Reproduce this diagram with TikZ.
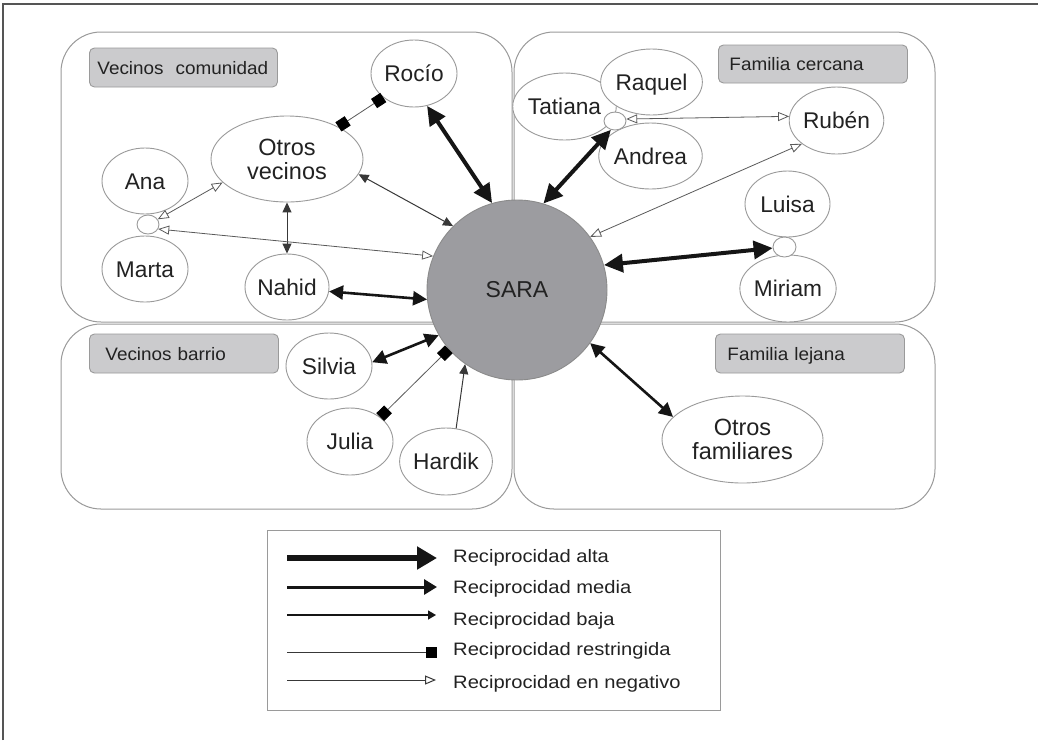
\documentclass[tikz,border=0pt]{standalone}
\usepackage{fontspec}
\setmainfont{Liberation Sans}
\newfontfamily\legfont[FakeStretch=1.12]{Liberation Sans}
\newfontfamily\labfont[FakeStretch=1.05]{Liberation Sans}
\usetikzlibrary{arrows.meta,shapes.geometric}
\definecolor{txt}{HTML}{222222}
\definecolor{bord}{HTML}{9A9A9A}
\definecolor{labfill}{HTML}{CBCBCD}
\definecolor{sarafill}{HTML}{9C9CA0}
\definecolor{edgec}{HTML}{151515}
\definecolor{thinc}{HTML}{5A5A5A}
\definecolor{framec}{HTML}{555555}
\begin{document}
\begin{tikzpicture}[x=1pt,y=-1pt,
  person/.style={ellipse, draw=bord, fill=white, line width=0.9pt, inner sep=0pt, text=txt,
    font=\fontsize{22.7}{24}\selectfont, text height=16pt, text depth=0pt},
  bigperson/.style={ellipse, draw=bord, fill=white, line width=0.9pt, inner sep=0pt, text=txt,
    font=\fontsize{23.5}{24}\selectfont, align=center},
  knot/.style={ellipse, draw=bord, fill=white, line width=0.9pt, inner sep=0pt},
  region/.style={draw=bord, line width=1pt, rounded corners=40pt},
  grouplab/.style={draw=bord, fill=labfill, rounded corners=5pt, line width=0.9pt, align=left,
    text=txt, font=\labfont\fontsize{18}{20}\selectfont, anchor=west, minimum height=39pt,
    text height=13pt, text depth=0pt},
  legtext/.style={anchor=base west, text=txt, font=\legfont\fontsize{18}{20}\selectfont, inner sep=0pt},
  alta/.style={draw=edgec, line width=4pt, arrows={Triangle[length=19pt,width=18pt]-Triangle[length=19pt,width=18pt]}},
  media/.style={draw=edgec, line width=2.6pt, arrows={Triangle[length=14pt,width=14pt]-Triangle[length=14pt,width=14pt]}},
  baja/.style={draw=edgec!85, line width=1pt, arrows={Triangle[length=10pt,width=9pt]-Triangle[length=10pt,width=9pt]}},
  bajaone/.style={draw=edgec!85, line width=1pt, arrows={-Triangle[length=10pt,width=9pt]}},
  restr/.style={draw=thinc, line width=0.8pt, arrows={Square[length=11pt,width=11pt,color=black]-Square[length=11pt,width=11pt,color=black]}},
  neg/.style={draw=thinc, line width=0.8pt, arrows={Triangle[length=11pt,width=9pt,fill=white]-Triangle[length=11pt,width=9pt,fill=white]}}
]
\useasboundingbox (0,0) rectangle (1038,740);
\fill[white] (0,0) rectangle (1038,740);
% outer frame (top and left)
\draw[framec, line width=1.6pt] (3,740) -- (3,4) -- (1038,4);

% regions
\draw[region] (61,32) rectangle (512,322);
\draw[region] (514,32) rectangle (935,322);
\draw[region] (61,324) rectangle (512,509);
\draw[region] (514,324) rectangle (935,509);

% group labels
\node[grouplab, inner xsep=8pt, text width=172pt] (gl1) at (89,67.5) {Vecinos\ \ comunidad};
\node[grouplab, inner xsep=11pt, text width=167pt, minimum height=38pt] (gl2) at (718,64) {Familia cercana};
\node[grouplab, inner xsep=16pt, text width=157pt] (gl3) at (89,353.5) {Vecinos barrio};
\node[grouplab, inner xsep=12pt, text width=165pt] (gl4) at (715,353.5) {Familia lejana};

% people
\node[person, minimum width=86pt, minimum height=67pt] (rocio) at (414,73.5) {Roc\'io};
\node[bigperson, minimum width=152pt, minimum height=86pt] (otrosv) at (287,159) {Otros\\vecinos};
\node[person, minimum width=86pt, minimum height=66pt] (ana) at (145,181) {Ana};
\node[person, minimum width=86pt, minimum height=66pt] (marta) at (145,269) {Marta};
\node[knot, minimum width=22pt, minimum height=19pt] (k1) at (148,224.5) {};
\node[person, minimum width=84pt, minimum height=66pt] (nahid) at (287,287) {Nahid};

\node[person, minimum width=85pt, minimum height=67pt] (tatiana) at (564.5,106.5) {Tatiana};
\node[person, minimum width=85pt, minimum height=66pt] (raquel) at (651.5,82) {Raquel};
\node[person, minimum width=85pt, minimum height=66pt] (andrea) at (650.5,156) {Andrea};
\node[knot, minimum width=22pt, minimum height=18pt] (k2) at (615,121) {};
\node[person, minimum width=85pt, minimum height=67pt] (ruben) at (836.5,120.5) {Rub\'en};
\node[person, minimum width=85pt, minimum height=66pt] (luisa) at (787.5,204) {Luisa};
\node[person, minimum width=86pt, minimum height=67pt] (miriam) at (788,288.5) {Miriam};
\node[knot, minimum width=23pt, minimum height=20pt] (k3) at (784.5,247) {};

\node[person, minimum width=86pt, minimum height=66pt] (silvia) at (329,366) {Silvia};
\node[person, minimum width=86pt, minimum height=67pt] (julia) at (350,441.5) {Julia};
\node[person, minimum width=86pt, minimum height=67pt] (hardik) at (446,461.5) {Hardik};
\node[bigperson, minimum width=161pt, minimum height=87pt] (otrosf) at (742.5,439.5) {Otros\\familiares};

\node[circle, draw=bord!90!black, fill=sarafill, line width=0.9pt, minimum size=180pt, inner sep=0pt,
  text=txt, font=\fontsize{23}{24}\selectfont] (sara) at (517,290) {SARA};

% connectors
\draw[restr] (otrosv.32) -- (rocio.-142);
\draw[alta] (rocio.-68) -- (sara.106);
\draw[baja] (otrosv.-12) -- (sara.135);
\draw[baja] (otrosv.-90) -- (nahid.90);
\draw[neg] (k1.28) -- (otrosv.-160);
\draw[neg] (k1.-24) -- (sara.158);
\draw[media] (nahid.-6) -- (sara.-174);

\draw[alta] (k2.-115) -- (sara.73);
\draw[neg] (k2.10) -- (ruben.175);
\draw[neg] (ruben.-146) -- (sara.36);
\draw[alta] (k3.-175) -- (sara.16);

\draw[media] (silvia.5) -- (sara.-150);
\draw[restr] (julia.39) -- (sara.-139);
\draw[bajaone] (hardik.73) -- (sara.-125);
\draw[media] (sara.-36) -- (otrosf.162);

% legend
\node[draw=bord, line width=1pt, minimum width=453pt, minimum height=180pt, anchor=north west, inner sep=0pt] (legend) at (267,530) {};
\coordinate (a1) at (287,558); \coordinate (b1) at (437,558);
\coordinate (a2) at (287,587); \coordinate (b2) at (437,587);
\coordinate (a3) at (287,615); \coordinate (b3) at (436,615);
\coordinate (a4) at (287,652); \coordinate (b4) at (437,652);
\coordinate (a5) at (287,680); \coordinate (b5) at (436,680);
\draw[draw=edgec, line width=6pt, arrows={-Triangle[length=20pt,width=22pt]}] (a1) -- (b1);
\draw[draw=edgec, line width=3pt, arrows={-Triangle[length=13pt,width=15pt]}] (a2) -- (b2);
\draw[draw=edgec, line width=1.3pt, arrows={-Triangle[length=8pt,width=9pt]}] (a3) -- (b3);
\draw[draw=edgec!85, line width=1pt, arrows={-Square[length=11pt,width=11pt,color=black]}] (a4) -- (b4);
\draw[draw=edgec!85, line width=1pt, arrows={-Triangle[length=11pt,width=9pt,fill=white]}] (a5) -- (b5);
\node[legtext] (t1) at (453,562.7) {Reciprocidad alta};
\node[legtext] (t2) at (453,593.3) {Reciprocidad media};
\node[legtext] (t3) at (453,625) {Reciprocidad baja};
\node[legtext] (t4) at (453,655.7) {Reciprocidad restringida};
\node[legtext] (t5) at (453,688.3) {Reciprocidad en negativo};
\end{tikzpicture}
\end{document}
